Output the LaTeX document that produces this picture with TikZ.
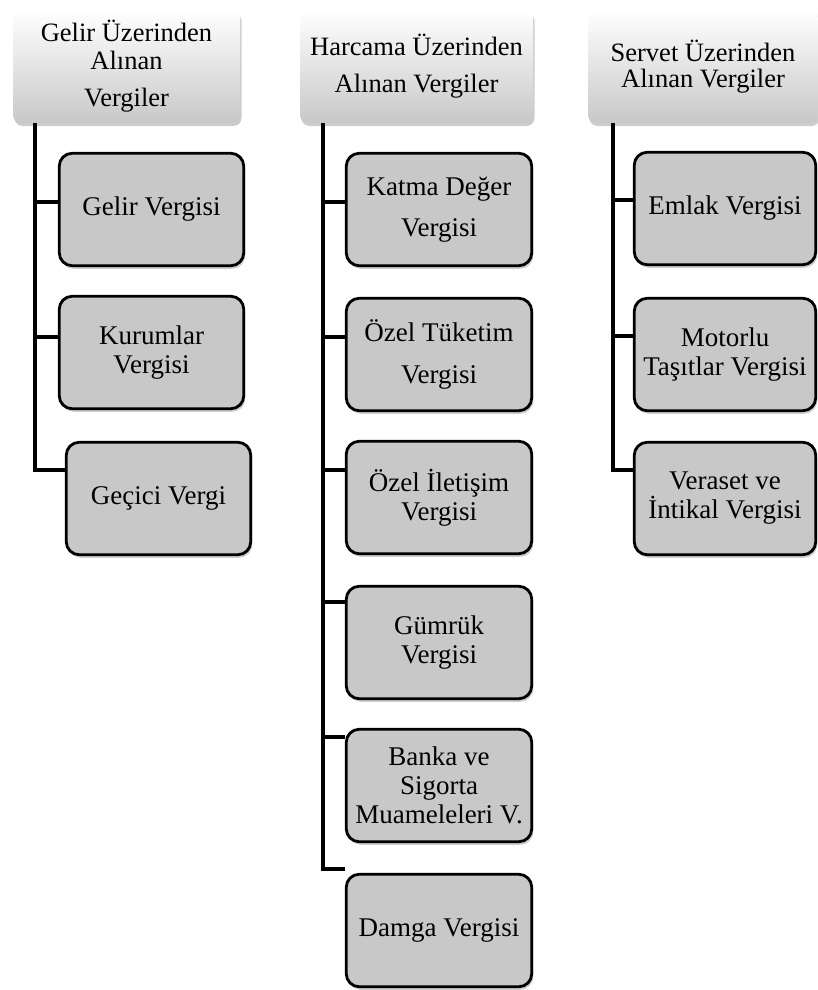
\documentclass[tikz,border=0pt]{standalone}
\usepackage{fontspec}
\setmainfont{Liberation Serif}
\usetikzlibrary{shadows}
\definecolor{boxgray}{RGB}{200,200,200}
\tikzset{
  shd/.style={drop shadow={shadow xshift=1.5pt, shadow yshift=-3pt, opacity=0.28, fill=black!70}},
  hdr/.style={rounded corners=8pt, top color=white, bottom color=boxgray, minimum height=113pt,
    inner sep=0pt, align=center, font=\fontsize{26.5}{29}\selectfont, shd},
  leaf/.style={draw=black, line width=2.8pt, rounded corners=13pt, fill=boxgray, minimum height=112.5pt,
    inner sep=0pt, align=center, font=\fontsize{27}{29}\selectfont, shd},
  conn/.style={line width=4pt, draw=black}
}
\begin{document}
\begin{tikzpicture}[x=1pt,y=-1pt]
\useasboundingbox[fill=white] (0,0) rectangle (818,990);
% headers
\node[hdr, minimum width=227pt, font=\fontsize{26.5}{28}\selectfont] (hl) at (126.5,66.5) {Gelir Üzerinden\\Alınan\\[9pt]Vergiler};
\node[hdr, minimum width=233pt] (hm) at (416.5,66.5) {Harcama Üzerinden\\[8pt]Alınan Vergiler};
\node[hdr, minimum width=230pt, font=\fontsize{26.5}{26}\selectfont] (hr) at (703,66.5) {Servet Üzerinden\\Alınan Vergiler};
% left column
\node[leaf, minimum width=184.5pt] (gelir) at (151.5,209.5) {Gelir Vergisi};
\node[leaf, minimum width=184.5pt] (kurum) at (151.5,352.5) {Kurumlar\\Vergisi};
\node[leaf, minimum width=184.5pt] (gecici) at (158.5,498.5) {Geçici Vergi};
% middle column
\node[leaf, minimum width=185.5pt] (kdv) at (439,209.5) {Katma Değer\\[12pt]Vergisi};
\node[leaf, minimum width=185.5pt] (otv) at (439,354.5) {Özel Tüketim\\[13pt]Vergisi};
\node[leaf, minimum width=185.5pt] (oiv) at (439,497.5) {Özel İletişim\\Vergisi};
\node[leaf, minimum width=185.5pt] (gumruk) at (439,642.5) {Gümrük\\Vergisi};
\node[leaf, minimum width=185.5pt] (banka) at (439,785.5) {Banka ve\\Sigorta\\Muameleleri V.};
\node[leaf, minimum width=185.5pt] (damga) at (439,930.5) {Damga Vergisi};
% right column
\node[leaf, minimum width=181.5pt] (emlak) at (725,208.5) {Emlak Vergisi};
\node[leaf, minimum width=181.5pt] (motor) at (725,354.5) {Motorlu\\Taşıtlar Vergisi};
\node[leaf, minimum width=181.5pt] (veraset) at (725,498.5) {Veraset ve\\İntikal Vergisi};
% trunks
\coordinate (lt) at (35,123);
\coordinate (mt) at (323,123);
\coordinate (rt) at (613,123);
\draw[conn] (lt) |- ([yshift=7.5pt]gelir.west);
\draw[conn] (lt) |- ([yshift=15.5pt]kurum.west);
\draw[conn] (lt) |- ([yshift=28.5pt]gecici.west);
\draw[conn] (mt) |- ([yshift=7.5pt]kdv.west);
\draw[conn] (mt) |- ([yshift=17.5pt]otv.west);
\draw[conn] (mt) |- ([yshift=27.5pt]oiv.west);
\draw[conn] (mt) |- ([yshift=40.5pt]gumruk.west);
\draw[conn] (mt) |- ([yshift=48.5pt]banka.west);
\draw[conn] (mt) |- ([yshift=61.5pt]damga.west);
\draw[conn] (rt) |- ([yshift=8.5pt]emlak.west);
\draw[conn] (rt) |- ([yshift=18.5pt]motor.west);
\draw[conn] (rt) |- ([yshift=28.5pt]veraset.west);
\end{tikzpicture}
\end{document}
